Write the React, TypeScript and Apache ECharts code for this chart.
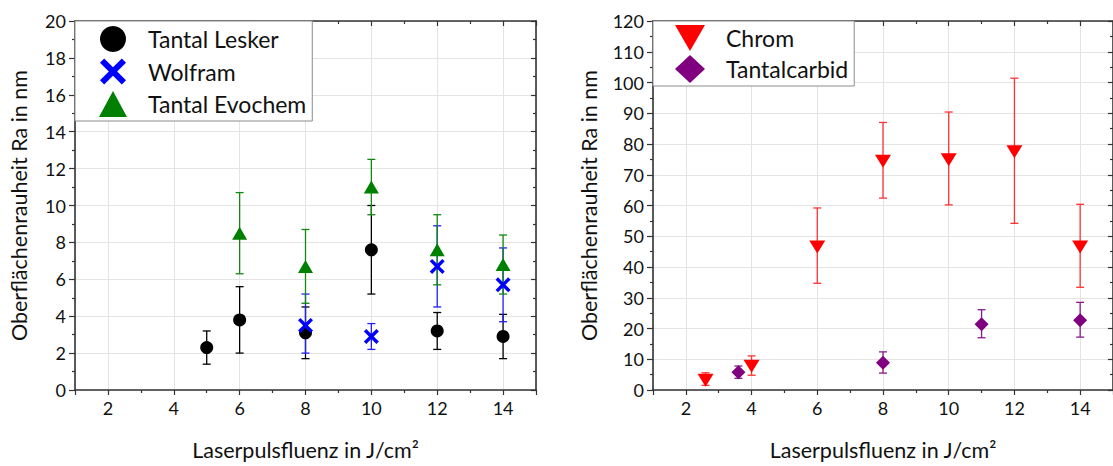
import React, { useEffect, useRef } from "react";
import * as echarts from "echarts";

// ---- Left chart data ----
const leskerX = [5, 6, 8, 10, 12, 14];
const leskerY = [2.3, 3.8, 3.1, 7.6, 3.2, 2.9];
const leskerLow = [1.4, 2.0, 1.7, 5.2, 2.2, 1.7];
const leskerHigh = [3.2, 5.6, 4.5, 10.0, 4.2, 4.1];

const wolframX = [8, 10, 12, 14];
const wolframY = [3.5, 2.9, 6.7, 5.7];
const wolframLow = [2.0, 2.2, 4.5, 3.7];
const wolframHigh = [5.2, 3.6, 8.9, 7.7];

const evochemX = [6, 8, 10, 12, 14];
const evochemY = [8.5, 6.7, 11.0, 7.6, 6.8];
const evochemLow = [6.3, 4.7, 9.5, 5.7, 5.2];
const evochemHigh = [10.7, 8.7, 12.5, 9.5, 8.4];

// ---- Right chart data ----
const chromX = [2.6, 4, 6, 8, 10, 12, 14];
const chromY = [3.2, 7.7, 46.5, 74.4, 74.9, 77.5, 46.5];
const chromLow = [1.5, 4.8, 34.7, 62.4, 60.2, 54.2, 33.4];
const chromHigh = [5.6, 11.1, 59.2, 87.0, 90.4, 101.4, 60.4];

const carbidX = [3.6, 8, 11, 14];
const carbidY = [5.8, 8.9, 21.4, 22.7];
const carbidLow = [3.8, 5.5, 17.0, 17.2];
const carbidHigh = [7.8, 12.4, 26.1, 28.5];

const xName = "Laserpulsfluenz in J/cm²";
const yName = "Oberflächenrauheit Ra in nm";

const FONT = "Lato";
const X_SYMBOL =
  "path://M0,1.6 L1.6,0 L5,3.4 L8.4,0 L10,1.6 L6.6,5 L10,8.4 L8.4,10 L5,6.6 L1.6,10 L0,8.4 L3.4,5 Z";
const DOWN_TRI = "path://M0,0 L10,0 L5,8.66 Z";

const axisColor = "#333333";
const lineStyle = { color: axisColor, width: 1.6 };
const tickStyle = { color: axisColor, width: 1.2 };
const gridLine = { color: "#e4e4e4", width: 1 };
const labelStyle = { fontFamily: FONT, fontSize: 18, color: "#111" };
const nameStyle = { fontFamily: FONT, fontSize: 21.5, color: "#111" };

const zip = (xs: number[], ys: number[]) => xs.map((x, i) => [x, ys[i]]);
const zip3 = (xs: number[], lo: number[], hi: number[]) => xs.map((x, i) => [x, lo[i], hi[i]]);

function xAxes(gridIndex: number) {
  const common = {
    type: "value",
    gridIndex,
    min: 1,
    max: 15,
    splitNumber: 7,
  };
  return [
    {
      ...common,
      position: "bottom",
      axisLine: { show: true, onZero: false, lineStyle },
      axisTick: { show: true, inside: false, length: 5, lineStyle: tickStyle },
      minorTick: { show: true, splitNumber: 2, length: 3, lineStyle: tickStyle },
      axisLabel: { showMinLabel: false, showMaxLabel: false, margin: 9, ...labelStyle },
      splitLine: { show: true, lineStyle: gridLine },
      name: xName,
      nameLocation: "middle",
      nameGap: 49,
      nameTextStyle: nameStyle,
    },
    {
      ...common,
      position: "top",
      axisLine: { show: true, onZero: false, lineStyle },
      axisTick: { show: true, inside: true, length: 5, lineStyle: tickStyle },
      minorTick: { show: true, splitNumber: 2, length: 3, lineStyle: tickStyle },
      axisLabel: { show: false },
      splitLine: { show: false },
    },
  ];
}

function yAxes(gridIndex: number, max: number, interval: number, nameGap: number) {
  const common = { type: "value", gridIndex, min: 0, max, interval };
  return [
    {
      ...common,
      position: "left",
      axisLine: { show: true, onZero: false, lineStyle },
      axisTick: { show: true, inside: false, length: 6, lineStyle: tickStyle },
      minorTick: { show: true, splitNumber: 2, length: 3, lineStyle: tickStyle },
      axisLabel: { margin: 9, ...labelStyle },
      splitLine: { show: true, lineStyle: gridLine },
      name: yName,
      nameLocation: "middle",
      nameGap,
      nameTextStyle: nameStyle,
    },
    {
      ...common,
      position: "right",
      axisLine: { show: true, onZero: false, lineStyle },
      axisTick: { show: true, inside: true, length: 5, lineStyle: tickStyle },
      minorTick: { show: true, splitNumber: 2, length: 3, lineStyle: tickStyle },
      axisLabel: { show: false },
      splitLine: { show: false },
    },
  ];
}

function errorBars(data: number[][], color: string, axis: number) {
  return {
    type: "custom",
    xAxisIndex: axis,
    yAxisIndex: axis,
    data,
    encode: { x: 0, y: [1, 2] },
    z: 1,
    silent: true,
    renderItem: (params: any, api: any) => {
      const x = api.value(0);
      const pLo = api.coord([x, api.value(1)]);
      const pHi = api.coord([x, api.value(2)]);
      const hw = 4;
      const style = { stroke: color, lineWidth: 1.3, fill: null };
      return {
        type: "group",
        children: [
          { type: "line", shape: { x1: pHi[0], y1: pHi[1], x2: pLo[0], y2: pLo[1] }, style },
          { type: "line", shape: { x1: pHi[0] - hw, y1: pHi[1], x2: pHi[0] + hw, y2: pHi[1] }, style },
          { type: "line", shape: { x1: pLo[0] - hw, y1: pLo[1], x2: pLo[0] + hw, y2: pLo[1] }, style },
        ],
      };
    },
  };
}

function scatter(name: string, data: number[][], color: string, symbol: string, size: any, axis: number) {
  return {
    type: "scatter",
    name,
    xAxisIndex: axis,
    yAxisIndex: axis,
    data,
    symbol,
    symbolSize: size,
    itemStyle: { color, opacity: 1 },
    z: 3,
  };
}

export default function App() {
  const ref = useRef<HTMLDivElement>(null);
  useEffect(() => {
    if (!ref.current) return;
    const chart = echarts.init(ref.current, undefined, { renderer: "svg" });
    const legendText = {
      fontFamily: FONT,
      fontSize: 23,
      lineHeight: 26,
      color: "#111",
      padding: [0, 0, 0, 16],
    };
    chart.setOption({
      animation: false,
      backgroundColor: "#ffffff",
      grid: [
        { left: 75, top: 21, width: 461, height: 372 },
        { left: 653, top: 21, width: 462, height: 373 },
      ],
      xAxis: [...xAxes(0), ...xAxes(1)],
      yAxis: [...yAxes(0, 20, 2, 45), ...yAxes(1, 120, 10, 53)],
      legend: [
        {
          data: ["Tantal Lesker", "Wolfram", "Tantal Evochem"],
          orient: "vertical",
          left: 75,
          top: 21,
          itemWidth: 28,
          itemHeight: 26,
          itemGap: 6.5,
          padding: [5, 6, 4, 24],
          backgroundColor: "#ffffff",
          borderColor: "#8c8c8c",
          borderWidth: 1,
          borderRadius: 0,
          textStyle: legendText,
        },
        {
          data: ["Chrom", "Tantalcarbid"],
          orient: "vertical",
          left: 653,
          top: 21,
          itemWidth: 30,
          itemHeight: 28,
          itemGap: 4,
          padding: [4, 6, 3, 22],
          backgroundColor: "#ffffff",
          borderColor: "#8c8c8c",
          borderWidth: 1,
          borderRadius: 0,
          textStyle: legendText,
        },
      ],
      series: [
        errorBars(zip3(leskerX, leskerLow, leskerHigh), "#000000", 0),
        errorBars(zip3(wolframX, wolframLow, wolframHigh), "#2020ff", 0),
        errorBars(zip3(evochemX, evochemLow, evochemHigh), "#118811", 0),
        scatter("Tantal Lesker", zip(leskerX, leskerY), "#000000", "circle", 13, 0),
        scatter("Wolfram", zip(wolframX, wolframY), "#0000ff", X_SYMBOL, 15, 0),
        scatter("Tantal Evochem", zip(evochemX, evochemY), "#008000", "triangle", [15, 13], 0),
        errorBars(zip3(chromX, chromLow, chromHigh), "#ff3333", 2),
        errorBars(zip3(carbidX, carbidLow, carbidHigh), "#8a1a8a", 2),
        scatter("Chrom", zip(chromX, chromY), "#ff0000", DOWN_TRI, [16, 13], 2),
        scatter("Tantalcarbid", zip(carbidX, carbidY), "#800080", "diamond", [14, 14], 2),
      ],
    });
    return () => chart.dispose();
  }, []);
  return (
    <div
      ref={ref}
      style={{ position: "absolute", left: 0, top: 0, width: 1113, height: 466 }}
    />
  );
}
